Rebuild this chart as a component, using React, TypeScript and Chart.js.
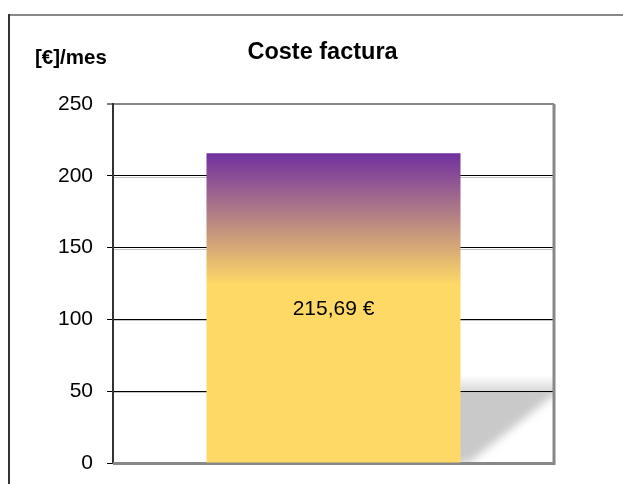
import React, { useEffect, useRef } from 'react';
import { Chart, registerables } from 'chart.js';

Chart.register(...registerables);

// ---- data ----
const categories = ['Coste factura'];
const costValues = [215.69];
const yTicks = [0, 50, 100, 150, 200, 250];
const chartTitle = 'Coste factura';
const unitLabel = '[€]/mes';
const gradientEndValue = 124; // below this value the bar is solid yellow

const FONT = '"Liberation Sans", Arial, Helvetica, sans-serif';
const PURPLE = '#7030A0';
const YELLOW = '#FFD966';

const fmtEuro = (v: number) => v.toFixed(2).replace('.', ',') + ' €';

const decorPlugin = {
  id: 'decor',
  beforeDraw(chart: any) {
    const { ctx, chartArea: a, scales } = chart;
    const y = scales.y;
    ctx.save();
    ctx.fillStyle = '#fff';
    ctx.fillRect(0, 0, chart.width, chart.height);

    // outer frame
    ctx.lineWidth = 2;
    ctx.strokeStyle = '#888';
    ctx.beginPath();
    ctx.moveTo(8, 15);
    ctx.lineTo(chart.width, 15);
    ctx.stroke();
    ctx.strokeStyle = '#333';
    ctx.beginPath();
    ctx.moveTo(9, 14);
    ctx.lineTo(9, chart.height);
    ctx.stroke();

    // title + unit label
    ctx.fillStyle = '#000';
    ctx.textBaseline = 'alphabetic';
    ctx.textAlign = 'center';
    ctx.font = `bold 23.5px ${FONT}`;
    ctx.fillText(chartTitle, 322.5, 59);
    ctx.textAlign = 'left';
    ctx.font = `bold 20.5px ${FONT}`;
    ctx.fillText(unitLabel, 35, 64);

    // floor shadow to the right of the bar
    const meta = chart.getDatasetMeta(0);
    const bar: any = meta.data[0];
    if (bar && a) {
      const barRight = bar.x + bar.width / 2;
      const y50 = y.getPixelForValue(yTicks[1]);
      // faint glow above the 50 line
      const g = ctx.createLinearGradient(0, y50 - 16, 0, y50);
      g.addColorStop(0, 'rgba(205,205,205,0)');
      g.addColorStop(1, 'rgba(205,205,205,0.75)');
      ctx.fillStyle = g;
      ctx.fillRect(barRight, y50 - 16, a.right - barRight, 16);

      ctx.save();
      ctx.beginPath();
      ctx.rect(a.left, y50, a.right - a.left, a.bottom - y50);
      ctx.clip();
      ctx.filter = 'blur(4px)';
      ctx.fillStyle = '#c9c9c9';
      ctx.beginPath();
      ctx.moveTo(bar.x, y50 - 8);
      ctx.lineTo(a.right + 4, y50 - 8);
      ctx.lineTo(a.right + 2, y50 + 2);
      ctx.lineTo(barRight + 8, a.bottom);
      ctx.lineTo(bar.x, a.bottom);
      ctx.closePath();
      ctx.fill();
      ctx.restore();

      // light shadow under each grid line
      ctx.strokeStyle = '#c4c4c4';
      ctx.lineWidth = 1;
      for (const v of yTicks) {
        if (v === yTicks[0] || v === yTicks[yTicks.length - 1]) continue;
        const py = Math.round(y.getPixelForValue(v)) + 1.5;
        ctx.beginPath();
        ctx.moveTo(a.left, py);
        ctx.lineTo(a.right, py);
        ctx.stroke();
      }
    }
    ctx.restore();
  },
  beforeDatasetsDraw(chart: any) {
    const { ctx, chartArea: a } = chart;
    ctx.save();
    ctx.strokeStyle = '#888';
    ctx.lineWidth = 3;
    ctx.beginPath();
    ctx.moveTo(a.left, a.bottom + 0.5);
    ctx.lineTo(a.right + 1.5, a.bottom + 0.5);
    ctx.moveTo(a.right, a.top);
    ctx.lineTo(a.right, a.bottom + 2);
    ctx.stroke();
    ctx.restore();
  },
  afterDatasetsDraw(chart: any) {
    const { ctx, scales } = chart;
    const meta = chart.getDatasetMeta(0);
    ctx.save();
    ctx.fillStyle = '#000';
    ctx.font = `21px ${FONT}`;
    ctx.textAlign = 'center';
    ctx.textBaseline = 'middle';
    meta.data.forEach((el: any, i: number) => {
      const v = costValues[i];
      ctx.fillText(fmtEuro(v), el.x, scales.y.getPixelForValue(v / 2) + 1);
    });
    ctx.restore();
  },
};

export default function App() {
  const ref = useRef<HTMLCanvasElement | null>(null);

  useEffect(() => {
    if (!ref.current) return;
    const chart = new Chart(ref.current, {
      type: 'bar',
      data: {
        labels: categories,
        datasets: [
          {
            data: costValues,
            backgroundColor: (c: any) => {
              const ch = c.chart;
              if (!ch.chartArea) return YELLOW;
              const ys = ch.scales.y;
              const g = ch.ctx.createLinearGradient(
                0,
                ys.getPixelForValue(costValues[0]),
                0,
                ys.getPixelForValue(gradientEndValue)
              );
              g.addColorStop(0, PURPLE);
              g.addColorStop(1, YELLOW);
              return g;
            },
            borderWidth: 0,
            barPercentage: 0.72,
            categoryPercentage: 0.8,
          },
        ],
      },
      options: {
        animation: false,
        responsive: false,
        devicePixelRatio: 1,
        layout: { padding: { left: 0, top: 104, right: 69, bottom: 21 } },
        plugins: {
          legend: { display: false },
          title: { display: false },
          tooltip: { enabled: false },
        },
        scales: {
          x: { display: false },
          y: {
            min: yTicks[0],
            max: yTicks[yTicks.length - 1],
            afterBuildTicks: (s: any) => {
              s.ticks = yTicks.map((v) => ({ value: v }));
            },
            afterFit: (s: any) => {
              s.width = 113;
              s.paddingTop = 0;
              s.paddingBottom = 0;
            },
            ticks: {
              color: '#000',
              font: { family: FONT, size: 21 },
              padding: 14,
            },
            grid: {
              color: (c: any) =>
                c.tick.value === yTicks[0]
                  ? 'rgba(0,0,0,0)'
                  : c.tick.value === yTicks[yTicks.length - 1]
                  ? '#888'
                  : '#000',
              lineWidth: (c: any) => (c.tick.value === yTicks[yTicks.length - 1] ? 2 : 1),
              tickColor: '#000',
              tickWidth: 1,
              tickLength: 6,
              drawTicks: true,
            },
            border: { color: '#333', width: 2 },
          },
        },
      },
      plugins: [decorPlugin],
    });
    return () => chart.destroy();
  }, []);

  return (
    <canvas
      ref={ref}
      width={623}
      height={484}
      style={{ position: 'absolute', left: 0, top: 0, width: 623, height: 484, display: 'block' }}
    />
  );
}
